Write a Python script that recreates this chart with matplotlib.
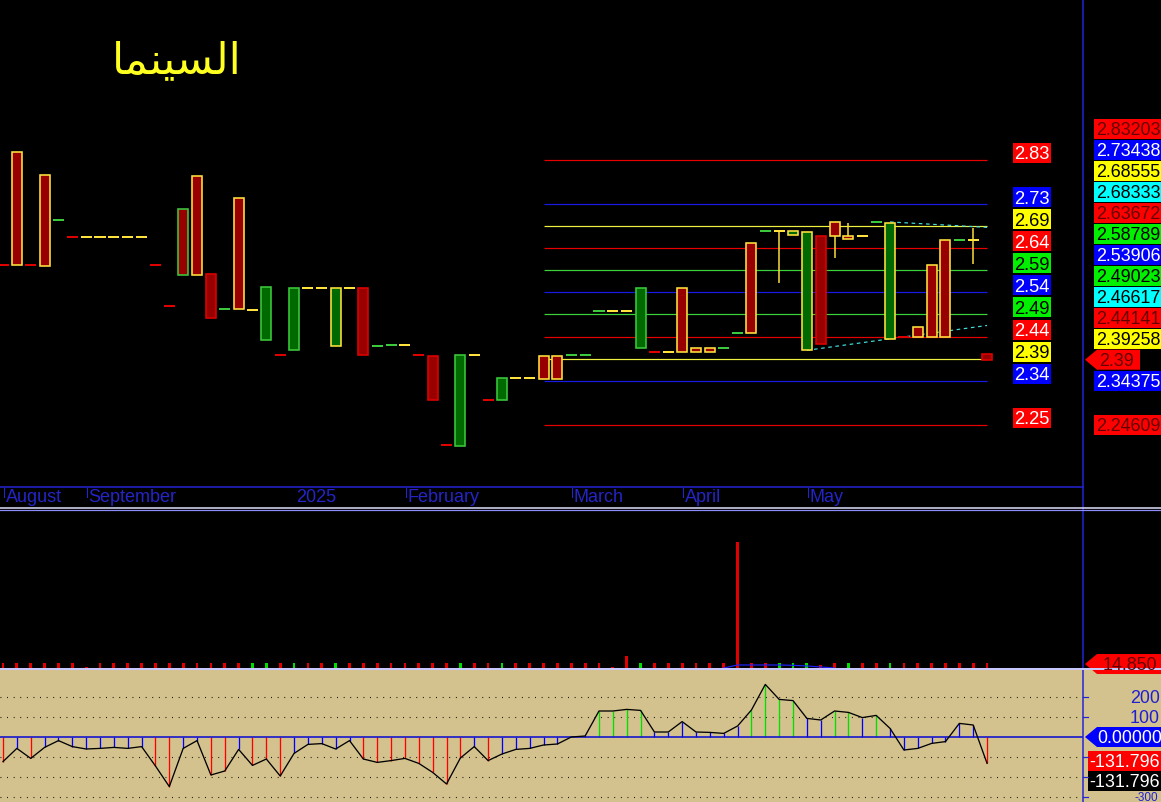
import numpy as np
import matplotlib
matplotlib.use("Agg")
import matplotlib.pyplot as plt
from matplotlib.patches import Rectangle, Polygon

W, H, DPI = 1161, 802, 100

# ---------------- data ----------------
# "السينما" written with Arabic presentation forms in visual order (matplotlib does no shaping)
title_text = "\uFE8E\uFEE4\uFEE8\uFEF4\uFEB4\uFEDF\uFE8D"

month_labels = ["August", "September", "2025", "February", "March", "April", "May"]
month_bars = [0, 6, 21, 29, 41, 49, 58]
month_ticks = [True, True, False, True, True, True, True]

opens = [2.600, 2.849, 2.599, 2.799, 2.699, 2.661, 2.661, 2.661, 2.661, 2.661,
         2.661, 2.599, 2.508, 2.723, 2.796, 2.579, 2.502, 2.747, 2.500, 2.433,
         2.400, 2.411, 2.548, 2.548, 2.421, 2.548, 2.548, 2.421, 2.423, 2.423,
         2.400, 2.398, 2.201, 2.200, 2.400, 2.300, 2.300, 2.350, 2.350, 2.398,
         2.398, 2.400, 2.400, 2.499, 2.499, 2.499, 2.415, 2.407, 2.408, 2.548,
         2.416, 2.416, 2.416, 2.449, 2.648, 2.675, 2.674, 2.666, 2.411, 2.663,
         2.694, 2.664, 2.664, 2.694, 2.435, 2.441, 2.462, 2.599, 2.654, 2.654,
         2.654, 2.402]
highs = [2.600, 2.849, 2.599, 2.799, 2.699, 2.661, 2.661, 2.661, 2.661, 2.661,
         2.661, 2.599, 2.508, 2.723, 2.796, 2.579, 2.502, 2.747, 2.500, 2.552,
         2.400, 2.548, 2.548, 2.548, 2.548, 2.548, 2.548, 2.421, 2.423, 2.423,
         2.400, 2.398, 2.201, 2.400, 2.400, 2.300, 2.350, 2.350, 2.350, 2.398,
         2.398, 2.400, 2.400, 2.499, 2.499, 2.499, 2.548, 2.407, 2.408, 2.548,
         2.416, 2.416, 2.416, 2.449, 2.648, 2.675, 2.674, 2.675, 2.673, 2.663,
         2.694, 2.692, 2.664, 2.694, 2.693, 2.441, 2.462, 2.599, 2.654, 2.654,
         2.681, 2.402]
lows = [2.600, 2.600, 2.599, 2.598, 2.699, 2.661, 2.661, 2.661, 2.661, 2.661,
        2.661, 2.599, 2.508, 2.578, 2.578, 2.483, 2.502, 2.502, 2.500, 2.433,
        2.400, 2.411, 2.548, 2.548, 2.421, 2.548, 2.400, 2.421, 2.423, 2.423,
        2.400, 2.300, 2.201, 2.200, 2.400, 2.300, 2.300, 2.350, 2.350, 2.348,
        2.348, 2.400, 2.400, 2.499, 2.499, 2.499, 2.415, 2.407, 2.408, 2.407,
        2.407, 2.407, 2.416, 2.449, 2.449, 2.675, 2.561, 2.666, 2.411, 2.426,
        2.616, 2.658, 2.664, 2.694, 2.435, 2.441, 2.441, 2.441, 2.441, 2.654,
        2.601, 2.389]
closes = [2.600, 2.600, 2.599, 2.598, 2.699, 2.661, 2.661, 2.661, 2.661, 2.661,
          2.661, 2.599, 2.508, 2.578, 2.578, 2.483, 2.502, 2.502, 2.500, 2.552,
          2.400, 2.548, 2.548, 2.548, 2.548, 2.548, 2.400, 2.421, 2.423, 2.423,
          2.400, 2.300, 2.201, 2.400, 2.400, 2.300, 2.350, 2.350, 2.350, 2.348,
          2.348, 2.400, 2.400, 2.499, 2.499, 2.499, 2.548, 2.407, 2.408, 2.407,
          2.407, 2.407, 2.416, 2.449, 2.449, 2.675, 2.674, 2.675, 2.673, 2.426,
          2.663, 2.658, 2.664, 2.694, 2.693, 2.441, 2.441, 2.441, 2.441, 2.654,
          2.654, 2.389]
# change signal per bar (r = down, g = up, y = unchanged) -> outline / dash colour
signal = ("ryrygryyyy" "yrrgyrgyyg" "rgyyyyrggy" "rrrgyrgyyy" "ygggyygryy"
          "yyggygyyyr" "yyygyryyyg" "yr")

level_values = [2.83203, 2.73438, 2.68555, 2.63672, 2.58789, 2.53906,
                2.49023, 2.44141, 2.39258, 2.34375, 2.24609]
level_kinds = ["r", "b", "y", "r", "g", "b", "g", "r", "y", "b", "r"]
level_start_bar, level_end_bar = 39, 71

trend_up_bars, trend_up_vals = [64, 71], [2.695, 2.683]
trend_lo_bars, trend_lo_vals = [58, 71], [2.411, 2.466]

right_values = [2.83203, 2.73438, 2.68555, 2.68333, 2.63672, 2.58789, 2.53906,
                2.49023, 2.46617, 2.44141, 2.39258, 2.39, 2.34375, 2.24609]
right_kinds = ["r", "b", "y", "c", "r", "g", "b", "g", "c", "r", "y", "last", "b", "r"]

volumes = [15200, 14900, 15100, 14800, 15300, 14700, 1500, 15000, 14900, 15100,
           15000, 14800, 15200, 14900, 15000, 15100, 14900, 15000, 15200, 14800,
           15000, 15100, 14900, 15000, 15200, 14800, 15000, 14900, 15100, 15000,
           14900, 15200, 15000, 14800, 15100, 15000, 14900, 15200, 15000, 14800,
           15100, 15000, 14900, 15000, 1500, 36000, 15000, 14900, 15100, 15000,
           14800, 15200, 15000, 375000, 15100, 14900, 15000, 15200, 14800, 9000,
           15000, 15100, 14900, 15000, 15200, 14800, 15000, 14900, 15100, 15000,
           14900, 14850]
vol_dir = ("rrrrrrrrrr" "rrrrrrrrgg" "rgrrgrrrrr" "rrrgrrgrrr" "rrrrrrgrrr"
           "rrrrrrgggr" "rgrrgrrrrr" "rr")
vol_ma_bars = [52, 53, 54, 55, 56, 57, 58, 59, 60]
vol_ma_vals = [0, 9000, 9000, 9000, 9000, 8000, 6000, 3000, 0]
last_volume_text = "14.850"

cci = [-123, -57, -107, -52, -18, -48, -60, -57, -52, -57,
       -48, -145, -248, -57, -18, -190, -170, -62, -142, -110,
       -195, -82, -37, -33, -60, -18, -110, -127, -118, -107,
       -132, -177, -235, -105, -48, -118, -85, -62, -57, -40,
       -35, 0, 5, 130, 130, 138, 133, 25, 25, 77,
       25, 23, 18, 55, 135, 263, 188, 182, 93, 85,
       130, 123, 97, 108, 43, -65, -57, -32, -23, 68,
       60, -131.796]
cci_grid = [200, 100, -100, -200, -300]
cci_axis_labels = ["200", "100", "-300"]
cci_axis_vals = [200, 100, -300]

# ---------------- layout / style ----------------
PANEL_R = 1083
BAR0_PX, BAR_PX = 3.0, 13.86
REF_P, REF_Y, PPU = 2.83203, 160.0, 452.0
PRICE_BOT = 487
VOL_TOP, VOL_BASE = 511, 668
CCI_TOP, CCI_ZERO, CCI_PPU = 670, 737, 0.2

C_RED_FILL, C_GRN_FILL = "#980000", "#006a00"
SIG = {"r": "#e00000", "g": "#3cc83c", "y": "#ffe23c"}
LVL = {"r": "#e80000", "b": "#1a1ae6", "y": "#f0f040", "g": "#3cd23c"}
BOX = {"r": "#ff0000", "b": "#0000ff", "y": "#ffff00", "g": "#00f000", "c": "#00ffff"}
BOX_TXT_LEVEL = {"r": "white", "b": "white", "y": "black", "g": "black", "c": "black"}
BOX_TXT_RIGHT = {"r": "#640000", "b": "white", "y": "black", "g": "black", "c": "black"}
AXBLUE = "#2323d8"
FONT = "Liberation Sans"
FS_RIGHT = 12.9
FS_LEVEL = 13.2


def lw(px):
    return px * 72.0 / DPI


def rect(x0, y0, x1, y1):
    return [x0 / W, 1 - y1 / H, (x1 - x0) / W, (y1 - y0) / H]


def price_y(p):
    return REF_Y + (REF_P - p) * PPU


xlim = ((0 - BAR0_PX) / BAR_PX, (PANEL_R - BAR0_PX) / BAR_PX)
n = len(opens)
xs = np.arange(n)

fig = plt.figure(figsize=(W / DPI, H / DPI), dpi=DPI, facecolor="black")
# tan background of indicator pane
fig.patches.append(Rectangle((0, 0), 1, (H - CCI_TOP) / H, transform=fig.transFigure,
                             facecolor="#d3c28e", edgecolor="none", zorder=-5))

# ---------------- price panel ----------------
axp = fig.add_axes(rect(0, 0, PANEL_R, PRICE_BOT))
axp.set_axis_off()
axp.set_xlim(*xlim)
axp.set_ylim(REF_P - (PRICE_BOT - REF_Y) / PPU, REF_P + REF_Y / PPU)

axp.hlines(level_values, level_start_bar, level_end_bar,
           colors=[LVL[k] for k in level_kinds], lw=lw(1.2), zorder=1)
axp.plot(trend_up_bars, trend_up_vals, color="#40e0e0", lw=lw(1.2), ls=(0, (3, 3)), zorder=2)
axp.plot(trend_lo_bars, trend_lo_vals, color="#40e0e0", lw=lw(1.2), ls=(0, (3, 3)), zorder=2)

for i in range(n):
    o, h, l, c = opens[i], highs[i], lows[i], closes[i]
    col = SIG[signal[i]]
    if h > max(o, c) or l < min(o, c):
        axp.vlines(i, l, h, colors=col, lw=lw(1.5), zorder=3)
    if o == c:
        axp.hlines(o, i - 0.4, i + 0.4, colors=col, lw=lw(2), zorder=4)
    else:
        fill = C_RED_FILL if c < o else C_GRN_FILL
        axp.bar(i, abs(c - o), bottom=min(o, c), width=0.72, color=fill,
                edgecolor=col, linewidth=lw(1.6), zorder=4)

# ---------------- volume panel ----------------
axv = fig.add_axes(rect(0, VOL_TOP, PANEL_R, VOL_BASE))
axv.set_axis_off()
axv.set_xlim(*xlim)
axv.set_ylim(0, max(volumes) * (VOL_BASE - VOL_TOP) / 126.0)
axv.bar(xs, volumes, width=0.2,
        color=["#00e000" if d == "g" else "#e00000" for d in vol_dir])
axv.plot(vol_ma_bars, vol_ma_vals, color="#2020ff", lw=lw(1.2))

# ---------------- CCI panel ----------------
axc = fig.add_axes(rect(0, CCI_TOP, PANEL_R, H))
axc.set_axis_off()
axc.set_xlim(*xlim)
axc.set_ylim(-(H - CCI_ZERO) / CCI_PPU, (CCI_ZERO - CCI_TOP) / CCI_PPU)
axc.hlines(cci_grid, xlim[0], xlim[1], colors="black", lw=lw(1.1),
           linestyles=[(0, (0.8, 5.2))], zorder=1)
stem_cols = ["#00e000" if v > 100 else ("#ff0000" if v < -100 else "#0000ff") for v in cci]
axc.vlines(xs, 0, cci, colors=stem_cols, lw=lw(1.3), zorder=2)
axc.axhline(0, color="#1010d0", lw=lw(1.6), zorder=3)
axc.plot(xs, cci, color="black", lw=lw(1.3), zorder=4)

# ---------------- overlay (frame, labels) ----------------
ov = fig.add_axes([0, 0, 1, 1], zorder=10)
ov.set_axis_off()
ov.set_xlim(0, W)
ov.set_ylim(H, 0)
ov.patch.set_alpha(0)

ov.plot([0, PANEL_R], [PRICE_BOT, PRICE_BOT], color=AXBLUE, lw=lw(1.5))
ov.plot([PANEL_R, PANEL_R], [0, H], color=AXBLUE, lw=lw(1.5))
ov.plot([0, W], [507.5, 507.5], color="#e4e4ff", lw=lw(1.5))
ov.plot([0, W], [509.6, 509.6], color="#8c8cff", lw=lw(1.2))
ov.plot([0, W], [669.3, 669.3], color="#c8c8ff", lw=lw(2))

# title
ov.text(177, 61, title_text, color="#ffff20", fontsize=31.5, family="DejaVu Sans",
        ha="center", va="center")

# month axis
for lab, b, tk in zip(month_labels, month_bars, month_ticks):
    xp = BAR0_PX + b * BAR_PX
    if tk:
        ov.plot([xp + 1, xp + 1], [488, 497], color=AXBLUE, lw=lw(1))
    ov.text(xp + 2.5, 502.5, lab, color="#2424c8", fontsize=13.0, family=FONT,
            ha="left", va="baseline")


def label_box(x0, yc, w, txt, fc, tc, fs, arrow=False, tx=None):
    if arrow:
        ov.add_patch(Polygon([(x0 - 12, yc), (x0, yc - 10), (x0 + w, yc - 10),
                              (x0 + w, yc + 10), (x0, yc + 10)], closed=True,
                             facecolor=fc, edgecolor="none"))
    else:
        ov.add_patch(Rectangle((x0, yc - 10), w, 20, facecolor=fc, edgecolor="none"))
    ov.text(x0 + 2 if tx is None else tx, yc + fs * 0.49, txt, color=tc, fontsize=fs,
            family=FONT, ha="left", va="baseline")


# level labels
for v, k in zip(level_values, level_kinds):
    yc = price_y(v) - 7
    label_box(1013, yc, 38, f"{v:.2f}", BOX[k], BOX_TXT_LEVEL[k], FS_LEVEL, tx=1014.5)

# right price scale labels, stacked upward to avoid overlap
placed = []
prev = None
for v, k in sorted(zip(right_values, right_kinds), key=lambda t: t[0]):
    yc = price_y(v)
    if prev is not None:
        yc = min(yc, prev - 21)
    prev = yc
    placed.append((v, k, yc))
for v, k, yc in placed:
    if k == "last":
        label_box(1097, yc, 43, f"{v:.2f}", "#ff0000", "#640000", FS_RIGHT, arrow=True, tx=1099)
    else:
        label_box(1094, yc, 70, f"{v:.5f}", BOX[k], BOX_TXT_RIGHT[k], FS_RIGHT, tx=1096)

# volume last label
vy = VOL_BASE - volumes[-1] * 126.0 / max(volumes)
label_box(1097, vy + 1, 70, last_volume_text, "#ff0000", "#640000", FS_RIGHT, arrow=True, tx=1103)

# CCI axis labels & ticks
for v in cci_grid:
    yy = CCI_ZERO - v * CCI_PPU
    ov.plot([PANEL_R, PANEL_R + 5], [yy, yy], color=AXBLUE, lw=lw(1.2))
for t, v in zip(cci_axis_labels, cci_axis_vals):
    if v >= 0:
        ov.text(1160, CCI_ZERO - v * CCI_PPU + 6.3, t, color="#2020d0", fontsize=FS_RIGHT,
                family=FONT, ha="right", va="baseline")
    else:
        ov.text(1158, H - 1.0, t, color="#2020d0", fontsize=8.5,
                family=FONT, ha="right", va="baseline")
label_box(1097, CCI_ZERO, 70, f"{0:.5f}", "#0000ff", "white", FS_RIGHT, arrow=True, tx=1097.5)
label_box(1088, CCI_ZERO - cci[-1] * CCI_PPU - 2.5, 80, f"{cci[-1]:.3f}", "#ff0000", "white",
          FS_RIGHT, tx=1089.5)
label_box(1088, CCI_ZERO - cci[-1] * CCI_PPU + 17.5, 80, f"{cci[-1]:.3f}", "#000000", "white",
          FS_RIGHT, tx=1089.5)

fig.savefig("out.png", dpi=DPI, facecolor="black")
